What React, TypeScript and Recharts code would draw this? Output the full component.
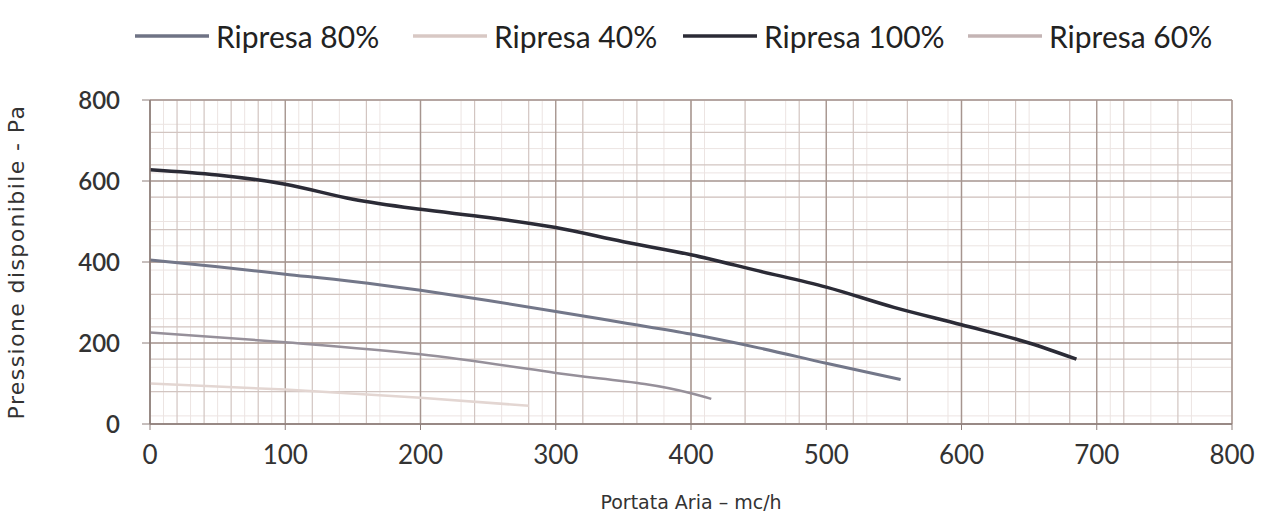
import React from 'react';
import { LineChart, Line, XAxis, YAxis, CartesianGrid, Legend } from 'recharts';

// ---- data ----
const flow80 = [0, 50, 100, 150, 200, 250, 300, 350, 400, 450, 500, 555];
const press80 = [405, 388, 370, 352, 330, 305, 278, 250, 222, 188, 150, 110];

const flow40 = [0, 100, 200, 280];
const press40 = [100, 85, 65, 45];

const flow100 = [0, 50, 100, 150, 200, 250, 300, 350, 400, 450, 500, 550, 600, 650, 685];
const press100 = [628, 615, 592, 555, 530, 510, 485, 450, 418, 378, 338, 288, 245, 200, 160];

const flow60 = [0, 100, 200, 300, 400, 415];
const press60 = [226, 202, 172, 126, 76, 62];

const seriesNames = ['Ripresa 80%', 'Ripresa 40%', 'Ripresa 100%', 'Ripresa 60%'];
const xTicks = [0, 100, 200, 300, 400, 500, 600, 700, 800];
const yTicks = [0, 200, 400, 600, 800];

// ---- styles ----
const seriesColors = ['#737789', '#e3d6d2', '#2b2b36', '#96909a'];
const seriesWidths = [3, 2.5, 3.5, 2.5];
const legendColors = ['#6f7385', '#d8c8c4', '#2b2b36', '#c4b4b4'];
const legendX = [135, 413, 683, 968];

const minorX: number[] = [];
for (let v = 0; v <= 800; v += 20) minorX.push(v);
const minorY: number[] = [];
for (let v = 0; v <= 800; v += 40) minorY.push(v);
const fineX: number[] = [];
for (let v = 0; v <= 800; v += 10) fineX.push(v);
const fineY: number[] = [];
for (let v = 0; v <= 800; v += 20) fineY.push(v);

const toPoints = (xs: number[], ys: number[]) => xs.map((x, i) => ({ x, y: ys[i] }));
const seriesData = [
  toPoints(flow80, press80),
  toPoints(flow40, press40),
  toPoints(flow100, press100),
  toPoints(flow60, press60),
];

const renderLegend = (props: any) => {
  const payload = [...(props.payload || [])].sort(
    (a: any, b: any) => seriesNames.indexOf(a.value) - seriesNames.indexOf(b.value)
  );
  return (
    <div style={{ position: 'relative', width: 1270, height: 44 }}>
      {payload.map((p: any) => {
        const i = seriesNames.indexOf(p.value);
        return (
          <div
            key={p.value}
            style={{
              position: 'absolute',
              left: legendX[i],
              top: 0,
              display: 'flex',
              alignItems: 'center',
              height: 44,
            }}
          >
            <svg width={74} height={10} style={{ display: 'block' }}>
              <line x1={0} y1={5} x2={74} y2={5} stroke={legendColors[i]} strokeWidth={3.5} />
            </svg>
            <span
              style={{
                marginLeft: 7,
                fontFamily: 'Lato, "Open Sans", sans-serif',
                fontSize: 30,
                color: '#222',
                whiteSpace: 'nowrap',
              }}
            >
              {p.value}
            </span>
          </div>
        );
      })}
    </div>
  );
};

export default function App() {
  return (
    <div style={{ position: 'absolute', left: 0, top: 0, width: 1270, height: 523, background: '#fff' }}>
      <LineChart width={1270} height={523} margin={{ top: 100, right: 38, left: 0, bottom: 0 }}>
        <CartesianGrid stroke="#ece4e2" strokeWidth={1} verticalValues={fineX} horizontalValues={fineY} />
        <CartesianGrid stroke="#d2c5c1" strokeWidth={1.2} verticalValues={minorX} horizontalValues={minorY} />
        <CartesianGrid stroke="#a6958f" strokeWidth={1.4} verticalValues={xTicks} horizontalValues={yTicks} />
        <XAxis
          type="number"
          dataKey="x"
          domain={[0, 800]}
          ticks={xTicks}
          allowDataOverflow
          height={99}
          tickSize={6}
          tickMargin={16}
          axisLine={{ stroke: '#8e7f7b', strokeWidth: 1.5 }}
          tickLine={{ stroke: '#8e7f7b' }}
          tick={{ fontFamily: 'Lato, sans-serif', fontSize: 26, fill: '#333' }}
          label={{
            value: 'Portata Aria – mc/h',
            position: 'insideBottom',
            offset: 14,
            style: { fontFamily: '"DejaVu Sans", sans-serif', fontSize: 19, fill: '#333' },
          }}
        />
        <YAxis
          type="number"
          dataKey="y"
          domain={[0, 800]}
          ticks={yTicks}
          allowDataOverflow
          width={150}
          tickSize={8}
          tickMargin={22}
          axisLine={{ stroke: '#8e7f7b', strokeWidth: 1.5 }}
          tickLine={{ stroke: '#8e7f7b' }}
          tick={{ fontFamily: 'Lato, sans-serif', fontSize: 24, fontWeight: 600, fill: '#333' }}
          label={{
            value: 'Pressione disponibile - Pa',
            angle: -90,
            position: 'insideLeft',
            offset: 16,
            style: {
              textAnchor: 'middle',
              fontFamily: '"DejaVu Sans", sans-serif',
              fontSize: 22,
              letterSpacing: 1.4,
              fill: '#333',
            },
          }}
        />
        <Legend
          layout="horizontal"
          verticalAlign="middle"
          content={renderLegend}
          wrapperStyle={{ top: 14, left: 0, width: 1270 }}
        />
        {seriesNames.map((name, i) => (
          <Line
            key={name}
            name={name}
            data={seriesData[i]}
            dataKey="y"
            type="monotone"
            stroke={seriesColors[i]}
            strokeWidth={seriesWidths[i]}
            dot={false}
            activeDot={false}
            isAnimationActive={false}
          />
        ))}
      </LineChart>
    </div>
  );
}
